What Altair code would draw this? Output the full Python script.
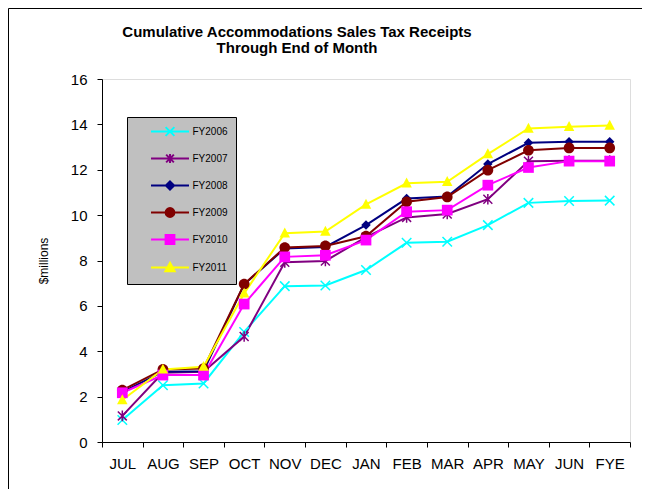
import altair as alt
import pandas as pd

months = ["JUL", "AUG", "SEP", "OCT", "NOV", "DEC", "JAN", "FEB", "MAR", "APR", "MAY", "JUN", "FYE"]
series = ["FY2006", "FY2007", "FY2008", "FY2009", "FY2010", "FY2011"]
fy2006 = [0.97, 2.50, 2.58, 4.85, 6.87, 6.90, 7.58, 8.78, 8.83, 9.56, 10.54, 10.62, 10.64]
fy2007 = [1.15, 3.05, 3.10, 4.65, 7.92, 7.98, 9.03, 9.90, 10.05, 10.70, 12.38, 12.40, 12.40]
fy2008 = [2.20, 3.10, 3.12, 6.95, 8.53, 8.60, 9.56, 10.73, 10.82, 12.25, 13.19, 13.23, 13.23]
fy2009 = [2.29, 3.20, 3.24, 6.96, 8.57, 8.64, 9.07, 10.59, 10.80, 11.98, 12.86, 12.96, 12.96]
fy2010 = [2.17, 2.95, 2.95, 6.08, 8.16, 8.23, 8.90, 10.15, 10.22, 11.32, 12.10, 12.38, 12.38]
fy2011 = [1.85, 3.20, 3.32, 6.55, 9.20, 9.28, 10.47, 11.40, 11.47, 12.69, 13.82, 13.89, 13.95]
colors = ["#00FFFF", "#800080", "#000080", "#800000", "#FF00FF", "#FFFF00"]

all_values = [fy2006, fy2007, fy2008, fy2009, fy2010, fy2011]
rows = []
for s, vals in zip(series, all_values):
    for m, v in zip(months, vals):
        rows.append({"month": m, "series": s, "value": v})
df = pd.DataFrame(rows)

# marker paths (unit extent) for plot points
marker_paths = [
    "M-1,-1L1,1M-1,1L1,-1",
    "M-1,-1L1,1M-1,1L1,-1M0,-1.2L0,1.2",
    "M0,-1L1,0L0,1L-1,0Z",
    "M-1,0A1,1,0,1,1,1,0A1,1,0,1,1,-1,0Z",
    "M-1,-1H1V1H-1Z",
    "M0,-1.1L1,0.8H-1Z",
]
marker_filled = [False, False, True, True, True, True]
marker_sizes = [90, 80, 90, 115, 115, 110]

# legend paths: line segment + marker
legend_paths = [
    "M-3.45,0L3.45,0M-0.8,-0.8L0.8,0.8M-0.8,0.8L0.8,-0.8",
    "M-3.45,0L3.45,0M-0.7,-0.7L0.7,0.7M-0.7,0.7L0.7,-0.7M0,-0.8L0,0.8",
    "M-3.45,0L3.45,0M0,-0.75L0.75,0L0,0.75L-0.75,0Z",
    "M-3.45,0L3.45,0M-0.8,0A0.8,0.8,0,1,1,0.8,0A0.8,0.8,0,1,1,-0.8,0Z",
    "M-3.45,0L3.45,0M-0.8,-0.8H0.8V0.8H-0.8Z",
    "M-3.45,0L3.45,0M0,-0.85L0.85,0.7H-0.85Z",
]

color_scale = alt.Scale(domain=series, range=colors)
font = "Liberation Sans"

x_enc = alt.X(
    "month:N",
    sort=months,
    bandPosition=0.5,
    scale=alt.Scale(type="band", paddingInner=0, paddingOuter=0, domain=months),
    axis=alt.Axis(
        title=None, labelAngle=0, tickBand="extent", labelFontSize=15,
        labelPadding=9, tickSize=5, tickColor="black", domainColor="black",
        labelColor="black", labelFont=font,
    ),
)
y_enc = alt.Y(
    "value:Q",
    scale=alt.Scale(domain=[0, 16], nice=False),
    axis=alt.Axis(
        title="$millions", values=[0, 2, 4, 6, 8, 10, 12, 14, 16], grid=False,
        labelFontSize=15, labelPadding=10, tickSize=5, tickColor="black",
        domainColor="black", labelColor="black", labelFont=font,
        titleFont=font, titleFontSize=12, titleFontWeight="normal",
        titleColor="black", titlePadding=20,
    ),
)

base = alt.Chart(df)

lines = base.mark_line(strokeWidth=2).encode(
    x=x_enc, y=y_enc,
    color=alt.Color("series:N", scale=color_scale, legend=None),
    detail="series:N",
)

point_layers = []
for i, s in enumerate(series):
    if marker_filled[i]:
        mk = base.mark_point(shape=marker_paths[i], filled=True, size=marker_sizes[i],
                             opacity=1, strokeWidth=0)
    else:
        mk = base.mark_point(shape=marker_paths[i], filled=False, size=marker_sizes[i],
                             opacity=1, strokeWidth=1.5)
    point_layers.append(
        mk.transform_filter(alt.datum.series == s).encode(
            x=x_enc, y=y_enc,
            color=alt.Color("series:N", scale=color_scale, legend=None),
        )
    )

legend = alt.Legend(
    title=None, orient="none", legendX=25, legendY=38,
    fillColor="#C0C0C0", strokeColor="#000000", padding=8,
    labelFont=font, labelFontSize=10, labelColor="black",
    symbolSize=121, symbolStrokeWidth=2, symbolOffset=28.5,
    labelOffset=16, rowPadding=10,
    labelExpr="datum.label + '  '",
)

legend_layer = base.mark_point(filled=True, opacity=1, strokeWidth=2).transform_filter(
    "false"
).encode(
    x=x_enc, y=y_enc,
    color=alt.Color("series:N", scale=color_scale, legend=legend),
    stroke=alt.Stroke("series:N", scale=alt.Scale(domain=series, range=colors), legend=legend),
    shape=alt.Shape("series:N", scale=alt.Scale(domain=series, range=legend_paths), legend=legend),
)

frame_df = pd.DataFrame({"k": [0]})
frame_left = alt.Chart(frame_df).mark_rule(color="black", strokeWidth=1).encode(
    x=alt.value(-93.5), y=alt.value(-70.5), y2=alt.value(420)
)
frame_top = alt.Chart(frame_df).mark_rule(color="black", strokeWidth=1).encode(
    x=alt.value(-93.5), x2=alt.value(560), y=alt.value(-70.5)
)

chart = alt.layer(
    frame_left, frame_top, lines, *point_layers, legend_layer
).resolve_legend(
    color="independent", stroke="independent", shape="independent"
).properties(
    width=528, height=363,
    padding={"left": 94, "top": 71, "right": 12, "bottom": 47},
    autosize=alt.AutoSizeParams(type="none"),
    title=alt.Title(
        text=["Cumulative Accommodations Sales Tax Receipts", "Through End of Month"],
        font=font, fontSize=15, fontWeight="bold", color="black",
        anchor="middle", frame="group", dx=-69, dy=87.5, offset=25, baseline="bottom",
        lineHeight=16,
    ),
).configure_view(
    stroke="#808080", strokeWidth=1
).configure(background="white")

chart.save("out.html", embed_options={"renderer": "svg", "actions": False})
